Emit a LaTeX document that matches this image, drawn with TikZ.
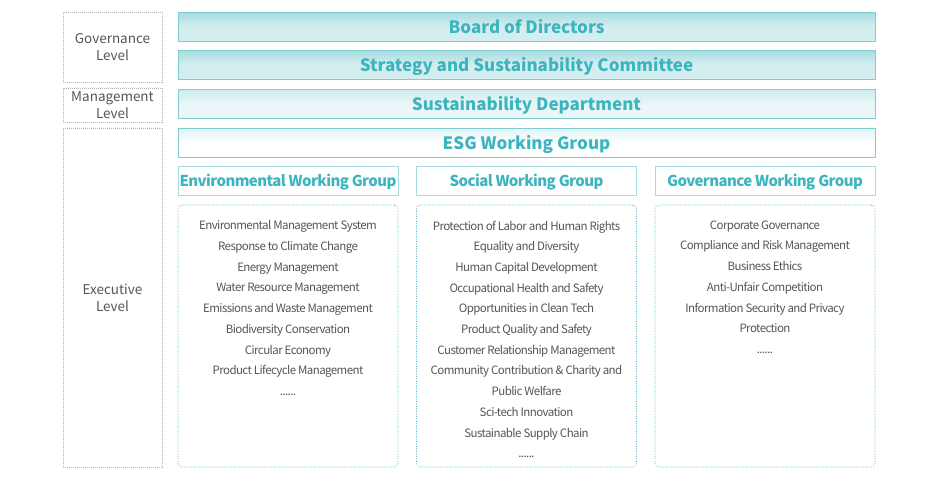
\documentclass[tikz,border=0pt]{standalone}
\usepackage{fontspec}
\setmainfont{Noto Sans CJK SC}
\newfontfamily\tightfont[LetterSpace=-5]{Noto Sans CJK SC}
\newfontfamily\headfont[LetterSpace=-4]{Noto Sans CJK SC}
\definecolor{tealtxt}{HTML}{3DB5BF}
\definecolor{tealline}{HTML}{7FCDD3}
\definecolor{tealfill}{HTML}{D4EDEF}
\definecolor{tealpale}{HTML}{EAF6F7}
\definecolor{greytxt}{HTML}{555555}
\tikzset{
  levelbox/.style={draw=gray!60, dash pattern=on 1pt off 1pt, text=greytxt, align=center,
    font=\fontsize{13.5}{17}\selectfont, inner sep=0pt},
  barbox/.style={draw=tealline, text=tealtxt, font=\fontsize{17}{20}\selectfont\bfseries,
    minimum width=697pt, minimum height=29pt, inner sep=0pt, text height=14.5pt, text depth=0pt},
  groupbox/.style={draw=tealline!70, text=tealtxt, font=\fontsize{15}{18}\headfont\bfseries,
    minimum width=220pt, minimum height=29pt, inner sep=0pt, text height=12pt, text depth=0pt},
  listbox/.style={draw=tealtxt!90, dash pattern=on 1pt off 1.5pt, line width=0.7pt,
    rounded corners=4pt, minimum width=220pt, inner sep=0pt},
  itemtext/.style={text=greytxt, align=center, font=\fontsize{11.5}{20.7}\tightfont, inner sep=0pt, anchor=north}
}
\begin{document}
\begin{tikzpicture}[x=1pt,y=-1pt]
    \useasboundingbox (0,0) rectangle (940,480);

    % Niveles
    \node[levelbox, minimum width=99pt, minimum height=70pt] (gov) at (112.5,47) {Governance\\Level};
    \node[levelbox, minimum width=99pt, minimum height=34pt] (man) at (112.5,105) {Management\\Level};
    \node[levelbox, minimum width=99pt, minimum height=339pt] (exe) at (112.5,297.5) {Executive\\Level};

    % Barras
    \node[barbox, top color=tealline!70, bottom color=tealfill, middle color=tealfill] (board) at (526.5,26.5) {Board of Directors};
    \node[barbox, top color=tealline!70, bottom color=tealfill, middle color=tealfill] (ssc) at (526.5,64.5) {Strategy and Sustainability Committee};
    \node[barbox, top color=tealline!40, bottom color=tealpale, middle color=tealpale] (sd) at (526.5,103.5) {Sustainability Department};
    \node[barbox, top color=tealline!25, bottom color=white, middle color=white] (esg) at (526.5,142.5) {ESG Working Group};

    % Grupos
    \node[groupbox] (env) at (288,180.5) {Environmental Working Group};
    \node[groupbox] (soc) at (526.5,180.5) {Social Working Group};
    \node[groupbox] (gwg) at (765,180.5) {Governance Working Group};

    % Cajas de temas
    \node[listbox, minimum height=262pt] (envbox) at (288,336) {};
    \node[listbox, minimum height=262pt] (socbox) at (526.5,336) {};
    \node[listbox, minimum height=262pt] (gwgbox) at (765,336) {};

    \node[itemtext] (envlist) at (288,220.5) {Environmental Management System\\Response to Climate Change\\Energy Management\\Water Resource Management\\Emissions and Waste Management\\Biodiversity Conservation\\Circular Economy\\Product Lifecycle Management\\......};
    \node[itemtext] (soclist) at (526.5,220.5) {Protection of Labor and Human Rights\\Equality and Diversity\\Human Capital Development\\Occupational Health and Safety\\Opportunities in Clean Tech\\Product Quality and Safety\\Customer Relationship Management\\Community Contribution \& Charity and\\Public Welfare\\Sci-tech Innovation\\Sustainable Supply Chain\\......};
    \node[itemtext] (gwglist) at (765,220.5) {Corporate Governance\\Compliance and Risk Management\\Business Ethics\\Anti-Unfair Competition\\Information Security and Privacy\\Protection\\......};
\end{tikzpicture}
\end{document}
